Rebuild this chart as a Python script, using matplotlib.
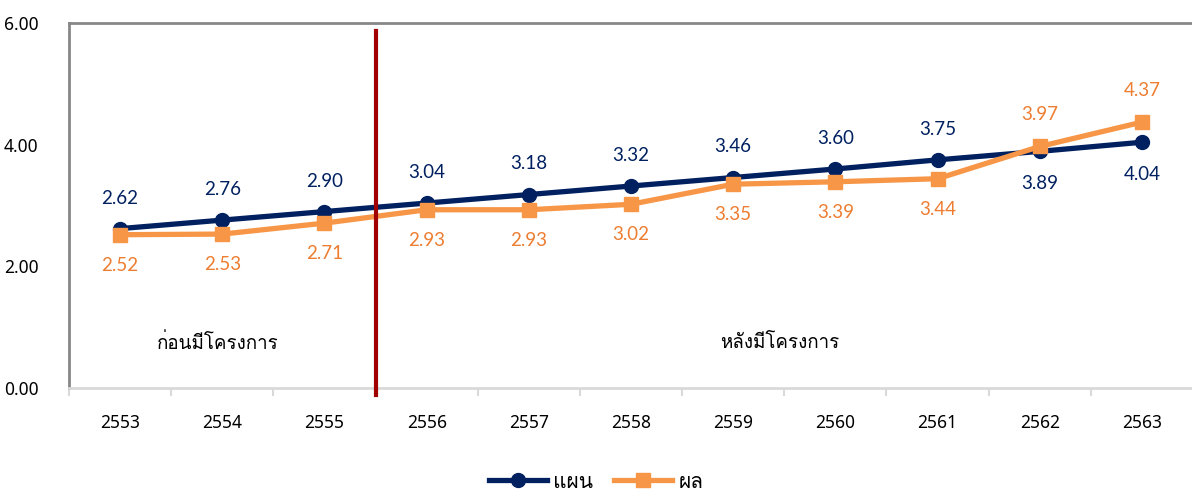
import matplotlib
matplotlib.use("Agg")
import matplotlib.pyplot as plt
from matplotlib import font_manager
from matplotlib.ft2font import FT2Font
from matplotlib.lines import Line2D

years = ["2553", "2554", "2555", "2556", "2557", "2558", "2559", "2560", "2561", "2562", "2563"]
plan = [2.62, 2.76, 2.90, 3.04, 3.18, 3.32, 3.46, 3.60, 3.75, 3.89, 4.04]
result = [2.52, 2.53, 2.71, 2.93, 2.93, 3.02, 3.35, 3.39, 3.44, 3.97, 4.37]
yticks = [0, 2, 4, 6]


# find an installed font that has Thai glyphs
def thai_family():
    for f in font_manager.fontManager.ttflist:
        try:
            if FT2Font(f.fname).get_char_index(0x0E01):
                return f.name
        except Exception:
            pass
    return "DejaVu Sans"


thai = thai_family()
plt.rcParams["font.family"] = ["Noto Sans", thai, "DejaVu Sans"]

navy = "#002060"
orange = "#F79646"
orange_txt = "#ED7D31"

fig = plt.figure(figsize=(11.92, 4.95), dpi=100)
ax = fig.add_axes([69 / 1192, 1 - 388 / 495, 1124 / 1192, 365 / 495])

x = list(range(len(years)))
ax.plot(x, plan, color=navy, lw=3.8, marker="o", ms=10, zorder=3)
ax.plot(x, result, color=orange, lw=3.8, marker="s", ms=10, zorder=4)

for i in x:
    up = i < 9
    ax.annotate(f"{plan[i]:.2f}", (i, plan[i]), xytext=(0, 22 if up else -23),
                textcoords="offset points", ha="center", va="center",
                color=navy, fontsize=13.5, family=["Lato", "DejaVu Sans"])
    ax.annotate(f"{result[i]:.2f}", (i, result[i]), xytext=(0, -22 if up else 23),
                textcoords="offset points", ha="center", va="center",
                color=orange_txt, fontsize=13.5, family=["Lato", "DejaVu Sans"])

ax.plot([2.5, 2.5], [-0.12, 5.87], color="#A00000", lw=3, clip_on=False, zorder=5)

ax.text(0.96, 0.74, "ก่อนมีโครงการ", ha="center", va="center", fontsize=13.5,
        color="black", family=[thai])
ax.text(6.46, 0.74, "หลังมีโครงการ", ha="center", va="center", fontsize=13.5,
        color="black", family=[thai])

ax.set_xlim(-0.5, len(years) - 0.5)
ax.set_ylim(0, 6)
ax.set_xticks(x)
ax.set_xticklabels(years, fontsize=12.5)
ax.set_xticks([i - 0.5 for i in range(len(years) + 1)], minor=True)
ax.tick_params(axis="x", which="major", length=0, pad=19)
ax.tick_params(axis="x", which="minor", length=6, color="#d9d9d9", width=1.5)
ax.set_yticks(yticks)
ax.set_yticklabels([f"{v:.2f}" for v in yticks], fontsize=12.5)
ax.tick_params(axis="y", length=0, pad=22)

for s in ["left", "top"]:
    ax.spines[s].set_color("#878787")
    ax.spines[s].set_linewidth(2)
ax.spines["bottom"].set_color("#d9d9d9")
ax.spines["bottom"].set_linewidth(2)
ax.spines["right"].set_visible(False)

handles = [Line2D([], [], color=navy, lw=3.8, marker="o", ms=10),
           Line2D([], [], color=orange, lw=3.8, marker="s", ms=10)]
fig.legend(handles, ["แผน", "ผล"], loc="center", bbox_to_anchor=(0.5, 13 / 495),
           ncol=2, frameon=False, prop={"family": [thai], "size": 15},
           handlelength=2.8, columnspacing=1.0, handletextpad=0.3)

fig.savefig("out.png", dpi=100)
